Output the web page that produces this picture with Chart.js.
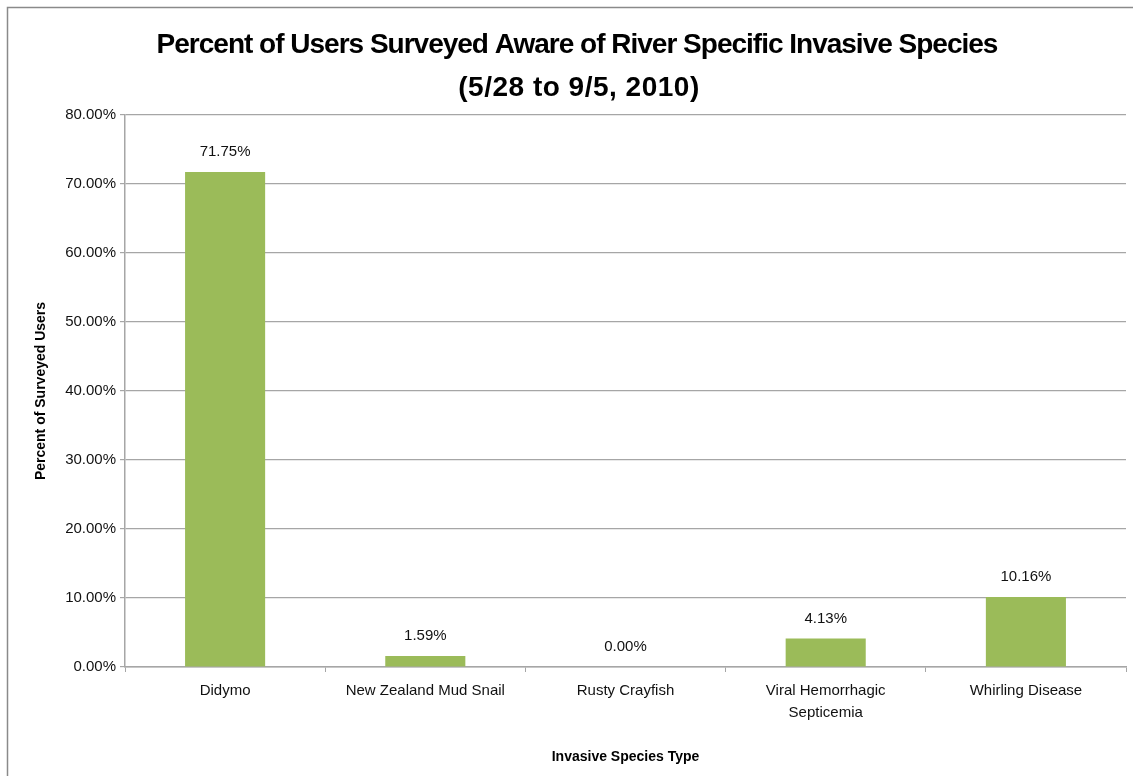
<!DOCTYPE html>
<html>
<head>
<meta charset="utf-8">
<title>Invasive Species Awareness</title>
<script src="https://cdn.jsdelivr.net/npm/chart.js@4.4.1/dist/chart.umd.min.js"></script>
<style>
  html, body { margin: 0; padding: 0; background: #fff; }
  #wrap { width: 1133px; height: 776px; }
</style>
</head>
<body>
<div id="wrap"><canvas id="myChart" width="1133" height="776"></canvas></div>
<script>
const species = ['Didymo', 'New Zealand Mud Snail', 'Rusty Crayfish', ['Viral Hemorrhagic', 'Septicemia'], 'Whirling Disease'];
const awarePct = [71.75, 1.59, 0.00, 4.13, 10.16];
const titleLines = ['Percent of Users Surveyed Aware of River Specific Invasive Species', '(5/28 to 9/5, 2010)'];

const FONT = '"Liberation Sans", Arial, sans-serif';
Chart.defaults.font.family = FONT;
Chart.defaults.color = '#000';

// outer frame + two line heading
const frameAndTitle = {
  id: 'frameAndTitle',
  afterDraw(chart) {
    const c = chart.ctx;
    c.save();
    c.strokeStyle = '#8a8a8a';
    c.lineWidth = 1.5;
    c.beginPath();
    c.moveTo(7.5, 776);
    c.lineTo(7.5, 7.5);
    c.lineTo(1133, 7.5);
    c.stroke();

    c.fillStyle = '#000';
    c.font = 'bold 28px ' + FONT;
    c.textAlign = 'center';
    c.textBaseline = 'middle';
    c.letterSpacing = '-1px';
    c.fillText(titleLines[0], 577, 45);
    c.letterSpacing = '0.5px';
    c.fillText(titleLines[1], 579, 88);
    c.restore();
  }
};

// value labels above the bars
const barLabels = {
  id: 'barLabels',
  afterDatasetsDraw(chart) {
    const c = chart.ctx;
    const meta = chart.getDatasetMeta(0);
    c.save();
    c.font = '15px ' + FONT;
    c.fillStyle = '#111';
    c.textAlign = 'center';
    c.textBaseline = 'middle';
    meta.data.forEach((bar, i) => {
      c.fillText(awarePct[i].toFixed(2) + '%', bar.x, bar.y - 20);
    });
    c.restore();
  }
};

const ctx = document.getElementById('myChart');

new Chart(ctx, {
  type: 'bar',
  data: {
    labels: species,
    datasets: [{
      label: 'Percent of Surveyed Users',
      data: awarePct,
      backgroundColor: '#9BBB59',
      borderWidth: 0,
      categoryPercentage: 1,
      barPercentage: 0.4
    }]
  },
  options: {
    responsive: false,
    animation: false,
    layout: { padding: { top: 115, left: 0, right: 7, bottom: 0 } },
    plugins: {
      legend: { display: false },
      tooltip: { enabled: false },
      title: { display: false }
    },
    scales: {
      x: {
        afterFit(scale) { scale.height = 109; },
        grid: {
          offset: true,
          drawOnChartArea: false,
          drawTicks: true,
          tickLength: 5,
          color: '#a6a6a6'
        },
        border: { color: '#a6a6a6', width: 1.5 },
        ticks: {
          padding: 8,
          maxRotation: 0,
          autoSkip: false,
          font: { size: 15, lineHeight: 1.45 },
          color: '#111'
        },
        title: {
          display: true,
          text: 'Invasive Species Type',
          font: { size: 14, weight: 'bold' },
          padding: { top: 0, bottom: 10 },
          color: '#000'
        }
      },
      y: {
        min: 0,
        max: 80,
        afterFit(scale) { scale.width = 125; },
        grid: {
          color: '#a6a6a6',
          lineWidth: 1.2,
          tickLength: 5
        },
        border: { color: '#a6a6a6', width: 1.5 },
        ticks: {
          stepSize: 10,
          padding: 4,
          font: { size: 15 },
          color: '#111',
          callback: v => v.toFixed(2) + '%'
        },
        title: {
          display: true,
          text: 'Percent of Surveyed Users',
          font: { size: 14, weight: 'bold' },
          padding: { top: 33, bottom: 0 },
          color: '#000'
        }
      }
    }
  },
  plugins: [barLabels, frameAndTitle]
});
</script>
</body>
</html>
